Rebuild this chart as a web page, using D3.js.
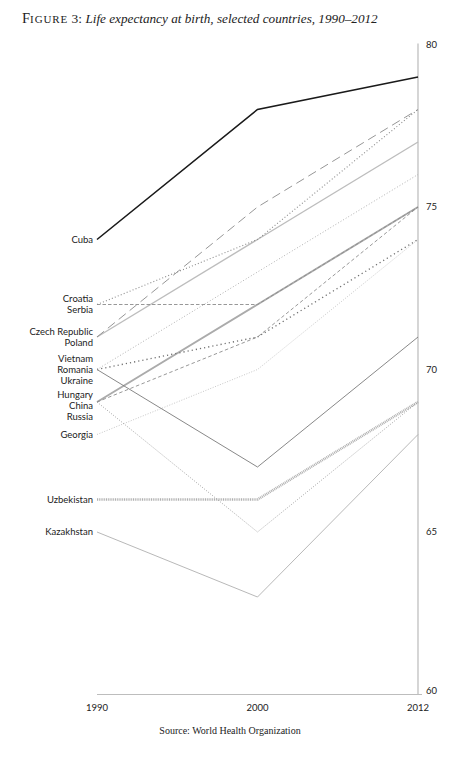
<!DOCTYPE html>
<html>
<head>
<meta charset="utf-8">
<script src="https://cdn.jsdelivr.net/npm/d3@7/dist/d3.min.js"></script>
<style>
  html, body { margin: 0; padding: 0; background: #fff; }
  svg { display: block; }
</style>
</head>
<body>
<svg id="chart" width="452" height="764"></svg>
<script>
  // ============================================================
  // Data
  // ============================================================

  const years = ["1990", "2000", "2012"];

  const countries = [
    "Cuba", "Croatia", "Serbia", "Czech Republic", "Poland",
    "Vietnam", "Romania", "Ukraine", "Hungary", "China", "Russia",
    "Georgia", "Uzbekistan", "Kazakhstan"
  ];

  // life expectancy at birth, one row per country: 1990, 2000, 2012
  const lifeExpectancy = [
    [74, 78, 79],
    [72, 74, 78],
    [72, 72, 75],
    [71, 75, 78],
    [71, 74, 77],
    [70, 73, 76],
    [70, 71, 74],
    [70, 67, 71],
    [69, 71, 75],
    [69, 72, 75],
    [69, 65, 69],
    [68, 70, 74],
    [66, 66, 69],
    [65, 63, 68]
  ];

  const yTicks = [60, 65, 70, 75, 80];

  // ============================================================
  // Line styles (stroke, width, dash)
  // ============================================================

  const lineStyle = {
    "Cuba":           { stroke: "#1a1a1a", width: 1.6, dash: null },
    "Croatia":        { stroke: "#8a8a8a", width: 1.1, dash: "1,2.2" },
    "Serbia":         { stroke: "#8c8c8c", width: 0.9, dash: "3.5,2" },
    "Czech Republic": { stroke: "#8a8a8a", width: 0.9, dash: "9,5" },
    "Poland":         { stroke: "#bdbdbd", width: 1.4, dash: null },
    "Vietnam":        { stroke: "#a8a8a8", width: 0.9, dash: "1,2" },
    "Romania":        { stroke: "#707070", width: 1.3, dash: "1.2,3" },
    "Ukraine":        { stroke: "#7a7a7a", width: 0.9, dash: null },
    "Hungary":        { stroke: "#8c8c8c", width: 0.9, dash: "3.5,2.5" },
    "China":          { stroke: "#ababab", width: 1.9, dash: null },
    "Russia":         { stroke: "#8e8e8e", width: 0.8, dash: "1,1.6" },
    "Georgia":        { stroke: "#c8c8c8", width: 1.0, dash: "1,1.6" },
    "Uzbekistan":     { stroke: "#b0b0b0", width: 2.6, dash: "1,0.8" },
    "Kazakhstan":     { stroke: "#a6a6a6", width: 0.8, dash: null }
  };

  // ============================================================
  // Scales
  // ============================================================

  const svg = d3.select("#chart");

  const x = d3.scalePoint().domain(years).range([97, 418]);
  const y = d3.scaleLinear().domain([60, 80]).range([694.5, 44.5]);

  const sans = "Lato, 'Open Sans', sans-serif";
  const serif = "'Liberation Serif', 'DejaVu Serif', serif";

  // ============================================================
  // Title
  // ============================================================

  const title = svg.append("text")
    .attr("x", 22)
    .attr("y", 23)
    .attr("font-family", serif)
    .attr("fill", "#222");
  title.append("tspan").attr("font-size", 14.5).text("F");
  title.append("tspan").attr("font-size", 11).attr("letter-spacing", 0.9).text("IGURE");
  title.append("tspan").attr("font-size", 13.5).text(" 3: ");
  title.append("tspan").attr("font-size", 13.2).attr("font-style", "italic")
    .text("Life expectancy at birth, selected countries, 1990–2012");

  // ============================================================
  // Axes
  // ============================================================

  svg.append("line")
    .attr("x1", x("2012")).attr("x2", x("2012"))
    .attr("y1", y(80) - 1).attr("y2", y(60))
    .attr("stroke", "#c4c4c4").attr("stroke-width", 1.4);

  svg.append("line")
    .attr("x1", x("1990")).attr("x2", x("2012") + 4)
    .attr("y1", y(60)).attr("y2", y(60))
    .attr("stroke", "#bdbdbd").attr("stroke-width", 1.2);

  svg.append("g").selectAll("text")
    .data(yTicks)
    .join("text")
    .attr("x", x("2012") + 8)
    .attr("y", d => y(d))
    .attr("dy", d => d === 60 ? "-0.05em" : "0.35em")
    .attr("font-family", sans)
    .attr("font-size", 9.5)
    .attr("fill", "#222")
    .text(d => d);

  svg.append("g").selectAll("text")
    .data(years)
    .join("text")
    .attr("x", d => x(d))
    .attr("y", 711)
    .attr("text-anchor", "middle")
    .attr("font-family", sans)
    .attr("font-size", 9.5)
    .attr("fill", "#222")
    .text(d => d);

  // ============================================================
  // Lines
  // ============================================================

  const series = countries.map((name, i) => ({
    name: name,
    points: years.map((yr, j) => ({ year: yr, value: lifeExpectancy[i][j] }))
  }));

  const line = d3.line()
    .x(d => x(d.year))
    .y(d => y(d.value));

  // draw lighter lines first so Cuba ends up on top
  svg.append("g")
    .selectAll("path")
    .data(series.slice().reverse())
    .join("path")
    .attr("d", d => line(d.points))
    .attr("fill", "none")
    .attr("stroke", d => lineStyle[d.name].stroke)
    .attr("stroke-width", d => lineStyle[d.name].width)
    .attr("stroke-dasharray", d => lineStyle[d.name].dash)
    .attr("stroke-linejoin", "miter");

  // ============================================================
  // Left labels, stacked where the 1990 values coincide
  // ============================================================

  const groups = d3.groups(series, d => d.points[0].value);
  const labels = [];
  const lineGap = 11;
  const groupGap = 14;
  let lastY = -Infinity;
  groups.forEach(([value, members]) => {
    let top = y(value) - (members.length - 1) / 2 * lineGap;
    // keep a little air between neighbouring groups
    if (top < lastY + groupGap) top = lastY + groupGap;
    members.forEach((m, i) => {
      labels.push({ name: m.name, y: top + i * lineGap });
    });
    lastY = top + (members.length - 1) * lineGap;
  });

  svg.append("g").selectAll("text")
    .data(labels)
    .join("text")
    .attr("x", x("1990") - 4)
    .attr("y", d => d.y)
    .attr("dy", "0.35em")
    .attr("text-anchor", "end")
    .attr("font-family", sans)
    .attr("font-size", 9.5)
    .attr("fill", "#222")
    .text(d => d.name);

  // ============================================================
  // Source
  // ============================================================

  svg.append("text")
    .attr("x", 230)
    .attr("y", 734)
    .attr("text-anchor", "middle")
    .attr("font-family", serif)
    .attr("font-size", 10)
    .attr("fill", "#222")
    .text("Source: World Health Organization");
</script>
</body>
</html>
